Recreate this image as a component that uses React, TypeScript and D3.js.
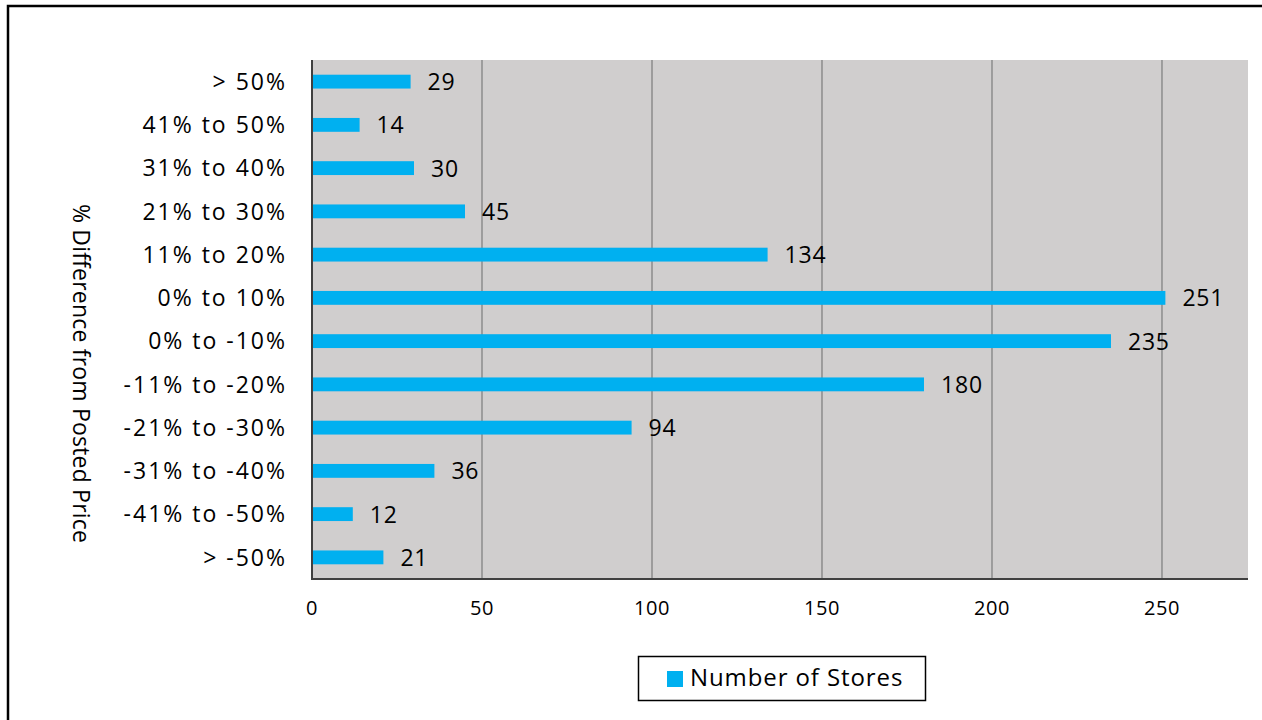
import React from "react";
import * as d3 from "d3";

const categories = [
  "> 50%",
  "41% to 50%",
  "31% to 40%",
  "21% to 30%",
  "11% to 20%",
  "0% to 10%",
  "0% to -10%",
  "-11% to -20%",
  "-21% to -30%",
  "-31% to -40%",
  "-41% to -50%",
  "> -50%",
];
const stores = [29, 14, 30, 45, 134, 251, 235, 180, 94, 36, 12, 21];
const xTicks = [0, 50, 100, 150, 200, 250];
const seriesName = "Number of Stores";
const yTitle = "% Difference from Posted Price";

const W = 1262;
const H = 720;
const plot = { left: 312, top: 60, right: 1248, bottom: 579 };
const FONT = "'Open Sans', 'Noto Sans', sans-serif";
const BAR = "#00B0F0";

export default function App() {
  const x = d3.scaleLinear().domain([0, 275.3]).range([plot.left, plot.right]);
  const y = d3
    .scaleBand<string>()
    .domain(categories)
    .range([plot.top, plot.bottom])
    .paddingInner(0.68)
    .paddingOuter(0.34);
  const bh = y.bandwidth();

  return (
    <svg
      width={W}
      height={H}
      style={{ position: "absolute", left: 0, top: 0, background: "#fff" }}
      fontFamily={FONT}
    >
      <rect x={8} y={6} width={W + 20} height={H + 20} fill="#fff" stroke="#000" strokeWidth={2.5} />
      <rect
        x={plot.left}
        y={plot.top}
        width={plot.right - plot.left}
        height={plot.bottom - plot.top}
        fill="#D0CECE"
      />
      {xTicks.slice(1).map((t) => (
        <line key={t} x1={x(t)} x2={x(t)} y1={plot.top} y2={plot.bottom} stroke="#8C8C8C" strokeWidth={1.5} />
      ))}
      {categories.map((c, i) => {
        const yy = y(c)!;
        return (
          <g key={c}>
            <rect x={x(0)} y={yy} width={x(stores[i]) - x(0)} height={bh} fill={BAR} />
            <text
              x={x(stores[i]) + 17}
              y={yy + bh / 2}
              dy="0.37em"
              fontSize={23}
              letterSpacing={0.8}
              fill="#000"
            >
              {stores[i]}
            </text>
            <text
              x={287}
              y={yy + bh / 2}
              dy="0.36em"
              fontSize={23}
              letterSpacing={2}
              textAnchor="end"
              fill="#000"
            >
              {c}
            </text>
          </g>
        );
      })}
      <line x1={plot.left} x2={plot.left} y1={plot.top} y2={plot.bottom} stroke="#404040" strokeWidth={2} />
      <line x1={plot.left - 1} x2={plot.right} y1={plot.bottom} y2={plot.bottom} stroke="#404040" strokeWidth={2} />
      {xTicks.map((t) => (
        <text key={t} x={x(t)} y={615} textAnchor="middle" fontSize={20} letterSpacing={0.5} fill="#000">
          {t}
        </text>
      ))}
      <text
        transform={`translate(73, 373.5) rotate(90)`}
        textAnchor="middle"
        fontSize={23}
        letterSpacing={0.2}
        fill="#000"
      >
        {yTitle}
      </text>
      <rect x={638.5} y={656.5} width={287} height={44} fill="#fff" stroke="#000" strokeWidth={1.5} />
      <rect x={667} y={671} width={16} height={16} fill={BAR} />
      <text x={690} y={686} fontSize={24} letterSpacing={0.9} fill="#000">
        {seriesName}
      </text>
    </svg>
  );
}
